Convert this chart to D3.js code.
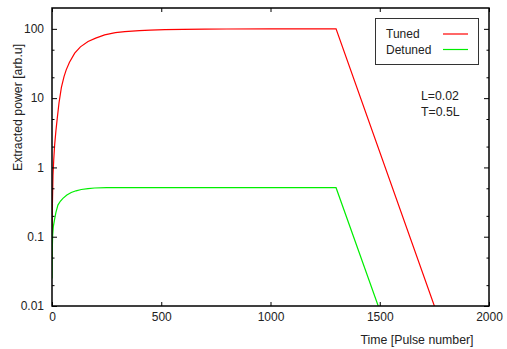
<!DOCTYPE html>
<html>
<head>
<meta charset="utf-8">
<script src="https://cdn.jsdelivr.net/npm/d3@7"></script>
<style>
  body { margin: 0; background: #fff; }
  text { font-family: "Liberation Sans", Arial, sans-serif; fill: #222; }
</style>
</head>
<body>
<div id="chart"></div>
<script>
// --- data ---
const tunedT = [0, 2, 4.6, 8, 12, 18, 24, 32, 43, 55, 65, 80, 104, 130, 165, 200, 241, 290, 333, 400, 450, 517, 600, 700, 800, 1000, 1300, 1750];
const tunedP = [0.05, 0.3, 0.77, 1.3, 2.1, 3.4, 5.1, 8.5, 14.3, 20.5, 25.6, 33, 44.6, 55, 65.6, 73.5, 81.8, 88, 91.5, 94.5, 96, 97.3, 98.4, 99.2, 99.6, 100, 100, 0.01];
const detunedT = [0, 1, 3, 6, 12, 18, 27, 38, 50, 68, 88, 110, 134, 165, 195, 250, 1300, 1493];
const detunedP = [0.025, 0.06, 0.105, 0.14, 0.18, 0.225, 0.286, 0.325, 0.357, 0.4, 0.435, 0.46, 0.48, 0.495, 0.505, 0.51, 0.51, 0.01];

const xTicks = [0, 500, 1000, 1500, 2000];
const yTicks = [0.01, 0.1, 1, 10, 100];
const yMinor = [0.02, 0.05, 0.2, 0.5, 2, 5, 20, 50];

const seriesNames = ["Tuned", "Detuned"];
const seriesColors = ["#ff0000", "#00ee00"];
const notes = ["L=0.02", "T=0.5L"];

// plot sizes
const W = 507, H = 349;
const margin = { top: 8, right: 18, bottom: 43, left: 52 };
const width = W - margin.left - margin.right;
const height = H - margin.top - margin.bottom;

const svg = d3.select("#chart").append("svg")
  .attr("width", W)
  .attr("height", H);

const chart = svg.append("g")
  .attr("transform", `translate(${margin.left}, ${margin.top})`);

// --- scales ---
const x = d3.scaleLinear().domain([0, 2000]).range([0, width]);
const y = d3.scaleLog().domain([0.01, 200]).range([height, 0]);

chart.append("clipPath").attr("id", "clip")
  .append("rect").attr("width", width).attr("height", height);

// --- curves ---
const line = d3.line()
  .x(d => x(d[0]))
  .y(d => y(d[1]));

const series = [
  d3.zip(tunedT, tunedP),
  d3.zip(detunedT, detunedP)
];

chart.append("g").attr("clip-path", "url(#clip)")
  .selectAll("path")
  .data(series)
  .enter().append("path")
  .attr("d", line)
  .attr("fill", "none")
  .attr("stroke", (d, i) => seriesColors[i])
  .attr("stroke-width", 1.2);

// --- axes (gnuplot style, ticks inward, mirrored) ---
const fs = "12px";

const axBottom = chart.append("g").attr("transform", `translate(0, ${height})`)
  .call(d3.axisBottom(x).tickValues(xTicks).tickSize(-4).tickPadding(6).tickFormat(d3.format("d")));
const axTop = chart.append("g")
  .call(d3.axisTop(x).tickValues(xTicks).tickSize(-4).tickFormat(""));
const axLeft = chart.append("g")
  .call(d3.axisLeft(y).tickValues(yTicks).tickSize(-5).tickPadding(8).tickFormat(d => d3.format("~g")(d)));
const axLeftMinor = chart.append("g")
  .call(d3.axisLeft(y).tickValues(yMinor).tickSize(-2.5).tickFormat(""));
const axRight = chart.append("g").attr("transform", `translate(${width}, 0)`)
  .call(d3.axisRight(y).tickValues(yTicks).tickSize(-5).tickFormat(""));
const axRightMinor = chart.append("g").attr("transform", `translate(${width}, 0)`)
  .call(d3.axisRight(y).tickValues(yMinor).tickSize(-2.5).tickFormat(""));

[axBottom, axTop, axLeft, axLeftMinor, axRight, axRightMinor].forEach(g => {
  g.select(".domain").remove();
  g.selectAll("line").attr("stroke", "#000");
  g.selectAll("text").style("font-size", fs).style("font-family", "Liberation Sans, Arial, sans-serif").attr("fill", "#222");
});

// frame
chart.append("rect")
  .attr("width", width).attr("height", height)
  .attr("fill", "none").attr("stroke", "#000").attr("stroke-width", 1.5);

// --- axis labels ---
svg.append("text")
  .attr("transform", "translate(21.5, 107.5) rotate(-90)")
  .attr("text-anchor", "middle")
  .style("font-size", "12.3px")
  .text("Extracted power [arb.u]");

svg.append("text")
  .attr("x", 417).attr("y", 344)
  .attr("text-anchor", "middle")
  .style("font-size", "12.3px")
  .text("Time [Pulse number]");

// --- legend ---
const legend = svg.append("g");
legend.append("rect")
  .attr("x", 375.5).attr("y", 18.5).attr("width", 103).attr("height", 46)
  .attr("fill", "#fff").attr("stroke", "#333").attr("stroke-width", 1);

seriesNames.forEach((name, i) => {
  const yy = 34 + i * 15.5;
  legend.append("text")
    .attr("x", 386).attr("y", yy + 4.3)
    .style("font-size", "12px")
    .text(name);
  legend.append("line")
    .attr("x1", 443).attr("x2", 468)
    .attr("y1", yy).attr("y2", yy)
    .attr("stroke", seriesColors[i]).attr("stroke-width", 1.2);
});

// --- annotation ---
notes.forEach((t, i) => {
  svg.append("text")
    .attr("x", 421).attr("y", 99.5 + i * 16.5)
    .style("font-size", "12.3px")
    .text(t);
});
</script>
</body>
</html>
